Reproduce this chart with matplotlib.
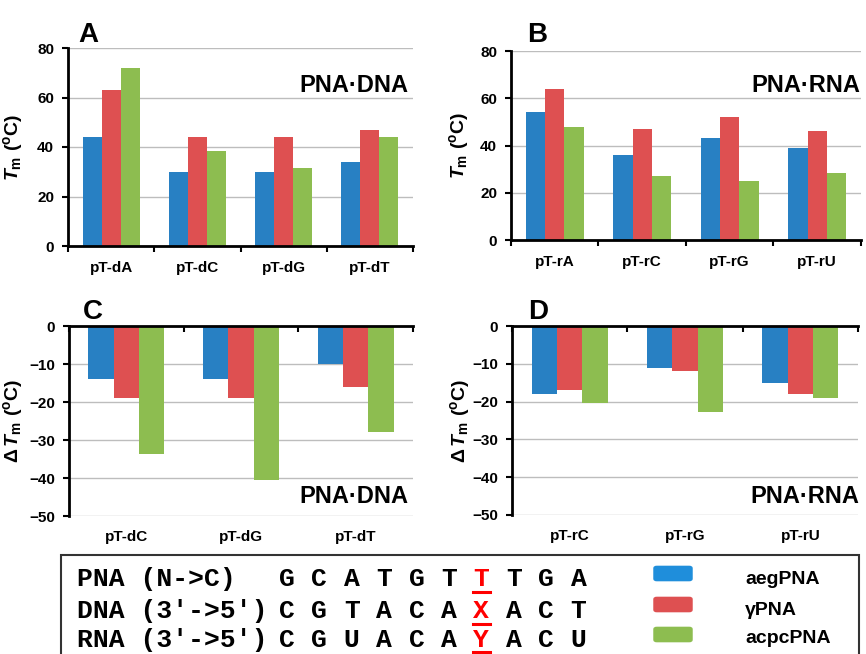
import matplotlib
matplotlib.use('Agg')
import matplotlib.pyplot as plt
import numpy as np
from matplotlib.patches import Rectangle, FancyBboxPatch
from matplotlib.lines import Line2D

plt.rcParams['font.family'] = ['Liberation Sans', 'DejaVu Sans']
plt.rcParams['font.weight'] = 'bold'
plt.rcParams['mathtext.fontset'] = 'custom'
plt.rcParams['mathtext.rm'] = 'Liberation Sans:bold'
plt.rcParams['mathtext.it'] = 'Liberation Sans:italic:bold'
plt.rcParams['mathtext.bf'] = 'Liberation Sans:bold'

# ---------------- data ----------------
series = ['aegPNA', 'γPNA', 'acpcPNA']
bar_colors = ['#2880C3', '#DE5051', '#8DBD50']
legend_colors = ['#1F8EDB', '#DE5051', '#8DBD50']

dna_cats = ['pT-dA', 'pT-dC', 'pT-dG', 'pT-dT']
dna_aeg = [44, 30, 30, 34]
dna_gamma = [63, 44, 44, 47]
dna_acpc = [72, 38.3, 31.6, 44]

rna_cats = ['pT-rA', 'pT-rC', 'pT-rG', 'pT-rU']
rna_aeg = [54, 36, 43, 39]
rna_gamma = [64, 47, 52, 46]
rna_acpc = [48, 27, 25, 28.3]

dna_mm_cats = ['pT-dC', 'pT-dG', 'pT-dT']
dna_mm_aeg = [-14, -14, -10]
dna_mm_gamma = [-19, -19, -16]
dna_mm_acpc = [-33.8, -40.6, -27.9]

rna_mm_cats = ['pT-rC', 'pT-rG', 'pT-rU']
rna_mm_aeg = [-18, -11, -15]
rna_mm_gamma = [-17, -12, -18]
rna_mm_acpc = [-20.5, -22.7, -19]

seq_labels = ['PNA (N->C)', "DNA (3'->5')", "RNA (3'->5')"]
seq_letters = ['GCATGTTTGA', 'CGTACAXACT', 'CGUACAYACU']
mismatch_pos = 6

W, H = 866, 654
fig = plt.figure(figsize=(W / 100, H / 100), dpi=100)


def fx(x):
    return x / W


def fy(y):
    return 1 - y / H


def make_ax(left, top, right, bottom):
    return fig.add_axes([fx(left), fy(bottom), (right - left) / W, (bottom - top) / H])


def draw(ax, cats, vals, ylim, yticks, negative, label_pad):
    x = np.arange(len(cats))
    w = 0.22
    for i, (v, c) in enumerate(zip(vals, bar_colors)):
        ax.bar(x + (i - 1) * w, v, w, color=c, zorder=2, linewidth=0)
    ax.set_xlim(-0.5, len(cats) - 0.5)
    ax.set_ylim(*ylim)
    ax.set_yticks(yticks)
    ax.yaxis.grid(True, color='#BDBDBD', lw=1)
    ax.set_axisbelow(True)
    ax.set_xticks(np.arange(len(cats) + 1) - 0.5)
    ax.set_xticklabels([])
    ax.set_xticks(x, minor=True)
    ax.set_xticklabels(cats, minor=True)
    ax.tick_params(axis='y', length=4, width=1.5, labelsize=11, pad=6)
    ax.spines['right'].set_visible(False)
    ax.spines['left'].set_linewidth(2)
    if negative:
        ax.spines['bottom'].set_visible(False)
        ax.spines['top'].set_linewidth(2)
        ax.tick_params(axis='x', which='major', length=4, width=1.5, bottom=False,
                       top=True, direction='in', labelbottom=False, labeltop=False)
    else:
        ax.spines['top'].set_visible(False)
        ax.spines['bottom'].set_linewidth(2)
        ax.tick_params(axis='x', which='major', length=4, width=1.5, bottom=True,
                       direction='out', labelbottom=False)
    ax.tick_params(axis='x', which='minor', length=0, bottom=True, top=False,
                   labelbottom=True, labelsize=11, pad=label_pad)


tm_label = r'$T_{\mathrm{m}}\ (^{\mathrm{o}}\mathrm{C})$'
dtm_label = r'$\Delta\,T_{\mathrm{m}}\ (^{\mathrm{o}}\mathrm{C})$'

axA = make_ax(68, 48, 413, 246)
draw(axA, dna_cats, [dna_aeg, dna_gamma, dna_acpc], (0, 80), [0, 20, 40, 60, 80], False, 11)
axA.set_ylabel(tm_label, fontsize=14)
axA.yaxis.set_label_coords(-0.125, 0.5)

axB = make_ax(511, 51, 861, 240)
draw(axB, rna_cats, [rna_aeg, rna_gamma, rna_acpc], (0, 80), [0, 20, 40, 60, 80], False, 11)
axB.set_ylabel(tm_label, fontsize=14)
axB.yaxis.set_label_coords(-0.114, 0.5)

axC = make_ax(69, 326, 413, 516)
draw(axC, dna_mm_cats, [dna_mm_aeg, dna_mm_gamma, dna_mm_acpc], (-50, 0),
     [-50, -40, -30, -20, -10, 0], True, 10)
axC.set_ylabel(dtm_label, fontsize=14)
axC.yaxis.set_label_coords(-0.128, 0.5)

axD = make_ax(512, 326, 858, 515)
draw(axD, rna_mm_cats, [rna_mm_aeg, rna_mm_gamma, rna_mm_acpc], (-50, 0),
     [-50, -40, -30, -20, -10, 0], True, 10)
axD.set_ylabel(dtm_label, fontsize=14)
axD.yaxis.set_label_coords(-0.116, 0.5)

# panel letters
for letter, x, y in [('A', 78, 42), ('B', 527, 42), ('C', 83, 319), ('D', 528, 319)]:
    fig.text(fx(x), fy(y), letter, fontsize=20, fontweight='bold', ha='left', va='baseline')

# hybrid labels
for txt, x, y in [('PNA\u00b7DNA', 408, 92), ('PNA\u00b7RNA', 860, 92),
                  ('PNA\u00b7DNA', 408, 503), ('PNA\u00b7RNA', 859, 503)]:
    fig.text(fx(x), fy(y), txt, fontsize=17, fontweight='bold', ha='right', va='baseline')

# bottom box
box = Rectangle((fx(61), fy(680)), (859 - 61) / W, (680 - 555) / H, transform=fig.transFigure,
                fill=False, edgecolor='#333333', lw=1.5, clip_on=False)
fig.patches.append(box)

row_baselines = [586, 618, 647]
underline_y = [592, 624, 652]
x0, dx = 287, 32.4
for r, (lab, seq) in enumerate(zip(seq_labels, seq_letters)):
    fig.text(fx(77), fy(row_baselines[r]), lab, family='Liberation Mono', fontsize=19,
             fontweight='bold', ha='left', va='baseline')
    for i, ch in enumerate(seq):
        col = 'red' if i == mismatch_pos else 'black'
        fig.text(fx(x0 + i * dx), fy(row_baselines[r]), ch, family='Liberation Mono',
                 fontsize=19, fontweight='bold', ha='center', va='baseline', color=col)
    xc = x0 + mismatch_pos * dx
    fig.add_artist(Line2D([fx(xc - 8.5), fx(xc + 8.5)], [fy(underline_y[r])] * 2,
                          transform=fig.transFigure, color='red', lw=2.2))

# legend
patch_tops = [565, 596, 626]
text_baselines = [584, 615, 643]
for name, col, top, base in zip(series, legend_colors, patch_tops, text_baselines):
    p = FancyBboxPatch((fx(655), fy(top + 15)), 36 / W, 13 / H,
                       boxstyle='round,pad=0.002,rounding_size=0.004',
                       transform=fig.transFigure, facecolor=col, edgecolor='none')
    fig.patches.append(p)
    fig.text(fx(745), fy(base), name, fontsize=14, fontweight='bold', ha='left', va='baseline')

fig.savefig('out.png', dpi=100)
